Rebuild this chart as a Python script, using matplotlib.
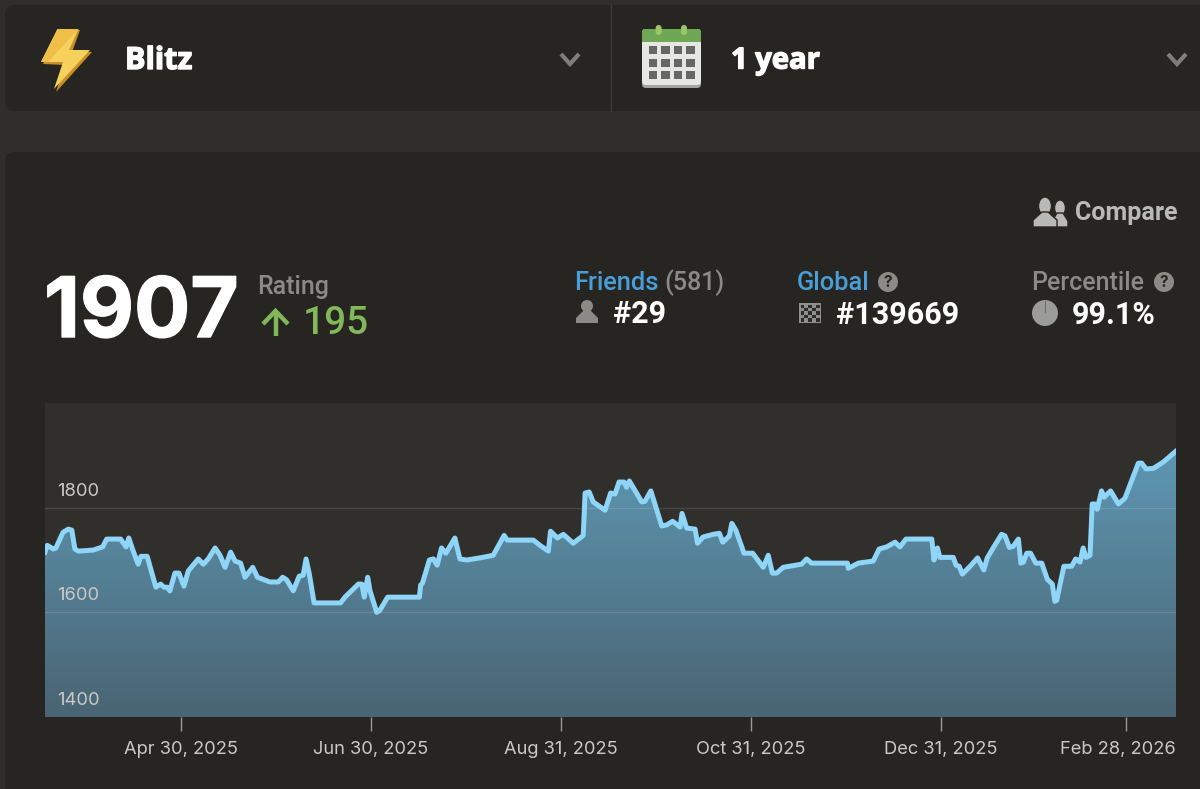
import numpy as np
import matplotlib
matplotlib.use('Agg')
import matplotlib.pyplot as plt
import matplotlib.patheffects as pe
from matplotlib.patches import FancyBboxPatch, Polygon, Circle, Rectangle, Ellipse
from matplotlib.colors import LinearSegmentedColormap
from matplotlib.transforms import ScaledTranslation

# dias desde 2025-03-17 y rating
days = [0, 0.7, 2.7, 3.5, 5.8, 7.5, 8.6, 9.6, 10.7, 15.5, 18.5, 19.8, 24.3, 26, 26.9, 28.2, 29.9, 30.8, 32.8,
        35.6, 37.1, 38.2, 39.2, 40.1, 41.7, 43, 44.6, 46, 49.2, 50.8, 52.4, 54.6, 56.2, 57.8, 59.6, 61, 62.8,
        64.2, 66.7, 68.2, 72.2, 74.9, 76.3, 77.6, 79.7, 81.6, 82.9, 83.8, 84.8, 86.4, 91.5, 94.9, 96.3, 100.6,
        101.7, 102.5, 103.6, 104.3, 106.5, 107.5, 110, 120.2, 120.6, 121.2, 123.4, 124.7, 125.9, 127.3, 128.7,
        131.6, 133.2, 135.4, 139.6, 143.9, 147.4, 148.4, 156.8, 158.9, 161.6, 162.3, 164.5, 166.4, 169.6, 172.8,
        173.4, 174.7, 176, 179.8, 181.6, 183, 184.3, 185.9, 186.7, 187.6, 191.6, 192.6, 194.5, 198, 199.6, 201.5,
        203.9, 204.5, 206, 208.7, 209.5, 211.3, 214.5, 216.5, 217.6, 219.7, 220.5, 221.8, 224.4, 227.2, 230.6,
        232.2, 233.5, 234.9, 237, 242.9, 244.5, 246.1, 257.6, 257.9, 261.1, 265.9, 267.8, 270.2, 272.9, 274.5,
        276.4, 284.7, 285.4, 286.5, 287.3, 291.6, 292.5, 293.5, 294.5, 297, 299.4, 301.4, 302.5, 304.7, 307.1,
        308.2, 309.6, 310.8, 312.5, 313.3, 314.1, 315.2, 316.4, 318.1, 320, 321.8, 323.4, 324.2, 324.8, 327.1,
        329.6, 330.9, 332.3, 333.3, 334.2, 335.5, 336.2, 337.1, 337.8, 339.2, 340, 342.1, 344.6, 346.7, 351,
        352.1, 353.5, 355.8, 359, 363.1]
rating = [1715, 1728, 1721, 1723, 1753, 1759, 1757, 1721, 1717, 1719, 1725, 1740, 1740, 1725, 1742, 1719, 1692, 1707, 1707,
          1648, 1654, 1648, 1648, 1641, 1675, 1675, 1650, 1679, 1702, 1692, 1702, 1723, 1709, 1686, 1715, 1698, 1694,
          1667, 1686, 1667, 1658, 1658, 1667, 1662, 1641, 1669, 1671, 1702, 1675, 1618, 1618, 1618, 1629, 1654,
          1654, 1629, 1667, 1642, 1600, 1604, 1629, 1629, 1652, 1656, 1700, 1702, 1690, 1723, 1713,
          1742, 1702, 1700, 1704, 1709, 1747, 1738, 1738, 1728, 1717, 1755, 1742, 1749, 1732, 1747,
          1828, 1830, 1811, 1795, 1828, 1826, 1849, 1849, 1839, 1851, 1811, 1812, 1832, 1765, 1767, 1774,
          1763, 1789, 1761, 1759, 1732, 1744, 1749, 1751, 1734, 1746, 1770, 1757, 1713, 1713, 1686,
          1709, 1675, 1675, 1686, 1692, 1702, 1694, 1694, 1684, 1694, 1698, 1721, 1725, 1734, 1725,
          1740, 1740, 1700, 1723, 1705, 1705, 1690, 1688, 1673, 1688, 1704, 1681, 1704, 1726, 1749,
          1746, 1724, 1726, 1740, 1694, 1696, 1713, 1713, 1694, 1694, 1663, 1654, 1621, 1623, 1688,
          1688, 1702, 1696, 1723, 1705, 1709, 1807, 1807, 1797, 1832, 1820, 1832, 1807, 1818, 1885,
          1885, 1874, 1875, 1887, 1908]

y_ticks = [1400, 1600, 1800]
x_tick_days = [43.7, 104.7, 165.7, 226.7, 287.7, 347]
x_tick_labels = ['Apr 30, 2025', 'Jun 30, 2025', 'Aug 31, 2025', 'Oct 31, 2025', 'Dec 31, 2025', 'Feb 28, 2026']

plt.rcParams['font.family'] = 'Inter'
BG = '#2f2e2b'
PANEL = '#262522'
GREY = '#8b8a88'
BLUE = '#4a9ed8'
GREEN = '#83b85a'
HEAVY = [pe.withStroke(linewidth=1.0, foreground='white')]

fig = plt.figure(figsize=(12, 7.89), dpi=100, facecolor=BG)

# capa de fondo en pixeles: paneles, iconos y textos
bg = fig.add_axes([0, 0, 1, 1], zorder=0)
bg.set_xlim(0, 1200)
bg.set_ylim(789, 0)
bg.axis('off')

bg.add_patch(FancyBboxPatch((5, 5), 1230, 106, boxstyle='round,pad=0,rounding_size=9', fc=PANEL, ec='none'))
bg.add_patch(FancyBboxPatch((5, 152), 1230, 700, boxstyle='round,pad=0,rounding_size=9', fc=PANEL, ec='none'))
bg.plot([611, 611], [5, 111], color='#3d3c39', lw=1)

# rayo
bg.add_patch(Polygon([(59, 30), (80, 30), (72, 52), (92, 52), (56, 92), (65, 65), (43, 64)], fc='#c98f2a', ec='none'))
bg.add_patch(Polygon([(57.5, 29), (78.5, 29), (69, 50), (90, 50), (54, 89), (63, 62), (41, 62)], fc='#f6d25c', ec='none'))
bg.add_patch(Polygon([(57.5, 29), (78.5, 29), (48, 62), (41, 62)], fc='#f0bf4a', ec='none'))

# calendario
bg.add_patch(FancyBboxPatch((642, 32), 59, 56, boxstyle='round,pad=0,rounding_size=4', fc='#a3a3a0', ec='none'))
bg.add_patch(FancyBboxPatch((642, 29), 59, 56, boxstyle='round,pad=0,rounding_size=4', fc='#e6e6e3', ec='none'))
bg.add_patch(FancyBboxPatch((642, 29), 59, 13, boxstyle='round,pad=0,rounding_size=3', fc='#6fa854', ec='none'))
bg.add_patch(Rectangle((642, 36), 59, 6, fc='#6fa854', ec='none'))
for cx in [658.6, 684]:
    bg.add_patch(FancyBboxPatch((cx - 3, 25), 6, 10, boxstyle='round,pad=0,rounding_size=3', fc='#9cc56a', ec='none'))
for cx in [653, 665.5, 678, 690.5]:
    for cy in [50, 63, 75]:
        bg.add_patch(Rectangle((cx - 4.2, cy - 4.2), 8.4, 8.4, fc='#666664', ec='none'))

# flechas de los desplegables
for cx in [570, 1177]:
    bg.plot([cx - 9, cx, cx + 9], [54, 64, 54], color='#7f7e7c', lw=3, solid_capstyle='butt', solid_joinstyle='miter')

bg.text(125, 61, 'Blitz', color='white', fontsize=22, fontweight='bold', family='Open Sans', va='center', path_effects=HEAVY)
bg.text(731, 61, '1 year', color='white', fontsize=21, fontweight='bold', family='Open Sans', va='center', path_effects=HEAVY)

# compare
for cx, top, rx, ry, w in [(1060, 200, 5.5, 8, 8), (1045, 197, 6.5, 9, 12)]:
    bg.add_patch(Ellipse((cx, top + ry), 2 * rx, 2 * ry, fc='#b9b9b7', ec=PANEL, lw=1))
    bg.add_patch(Polygon([(cx - 3, top + 2 * ry - 3), (cx + 3, top + 2 * ry - 3), (cx + w, top + 2 * ry + 5),
                          (cx + w, 227), (cx - w, 227), (cx - w, top + 2 * ry + 5)], fc='#b9b9b7', ec=PANEL, lw=1))
bg.text(1075, 213, 'Compare', color='#b9b9b7', fontsize=18, fontweight='semibold', family='Roboto', va='center')

# rating
bg.text(44, 315, '1907', color='white', fontsize=60, fontweight='bold', va='center', path_effects=HEAVY)
bg.text(257, 287, 'Rating', color=GREY, fontsize=18, fontweight='medium', family='Roboto', va='center')
bg.plot([275.5, 275.5], [312, 336], color=GREEN, lw=3.2, solid_capstyle='butt')
bg.plot([263, 275.5, 288], [324, 311, 324], color=GREEN, lw=3.2, solid_capstyle='butt', solid_joinstyle='miter')
bg.text(303, 323, '195', color=GREEN, fontsize=28, fontweight='medium', family='Roboto', va='center')

# friends / global / percentile
bg.text(574, 283, 'Friends', color=BLUE, fontsize=18.3, fontweight='medium', family='Roboto', va='center')
bg.text(664, 283, '(581)', color=GREY, fontsize=18, fontweight='medium', family='Roboto', va='center')
bg.add_patch(Circle((587, 306), 6, fc=GREY, ec='none'))
bg.add_patch(Polygon([(584, 310), (590, 310), (598, 318), (598, 323), (576, 323), (576, 318)], fc=GREY, ec='none'))
bg.text(613, 314, '#29', color='white', fontsize=22, fontweight='semibold', family='Roboto', va='center')

bg.text(797, 283, 'Global', color=BLUE, fontsize=18.3, fontweight='medium', family='Roboto', va='center')
bg.add_patch(Circle((888, 282), 10, fc=GREY, ec='none'))
bg.text(888, 282, '?', color=PANEL, fontsize=11, fontweight='bold', ha='center', va='center')
bg.add_patch(Rectangle((799, 303), 22, 20, fc='#8e8e8c', ec='none'))
for i in range(5):
    for j in range(5):
        if (i + j) % 2 == 0:
            bg.add_patch(Rectangle((800.5 + i * 3.8, 304.5 + j * 3.4), 3.8, 3.4, fc='#2e2d2b', ec='none'))
bg.text(836, 315, '#139669', color='white', fontsize=22, fontweight='semibold', family='Roboto', va='center')

bg.text(1031, 283, 'Percentile', color=GREY, fontsize=18, fontweight='medium', family='Roboto', va='center')
bg.add_patch(Circle((1164, 282), 10, fc=GREY, ec='none'))
bg.text(1164, 282, '?', color=PANEL, fontsize=11, fontweight='bold', ha='center', va='center')
bg.add_patch(Circle((1045, 313), 13, fc='#9b9b99', ec='none'))
bg.plot([1045, 1045], [301, 312], color='#6b6b69', lw=0.7)
bg.text(1072, 315, '99.1%', color='white', fontsize=22, fontweight='semibold', family='Roboto', va='center')

# grafico
ax = fig.add_axes([45 / 1200, 1 - 717 / 789, 1131 / 1200, 314 / 789], zorder=1, facecolor='#312f2c')
ax.set_xlim(0, 363.1)
ax.set_ylim(1400, 2000)

cmap = LinearSegmentedColormap.from_list('fill', ['#496472', '#5e97b3'])
grad = ax.imshow(np.linspace(0, 1, 256).reshape(-1, 1), cmap=cmap, origin='lower', aspect='auto',
                 extent=[0, 363.1, 1400, 1910], zorder=1)
area = Polygon(list(zip(days, rating)) + [(363.1, 1400), (0, 1400)], transform=ax.transData, fc='none', ec='none')
ax.add_patch(area)
grad.set_clip_path(area)
ax.set_xlim(0, 363.1)
ax.set_ylim(1400, 2000)

for t in y_ticks[1:]:
    ax.axhline(t, color='white', alpha=0.13, lw=1, zorder=2)
for t in y_ticks:
    ax.annotate(str(t), (0, t), xytext=(12, 8), xycoords=('axes fraction', 'data'), textcoords='offset pixels',
                color='#c9c9c7', fontsize=13.2, va='bottom', zorder=5)

ax.plot(days, rating, color='#8fd5f7', lw=3.6, solid_joinstyle='round', zorder=3)

for s in ax.spines.values():
    s.set_visible(False)
ax.set_yticks([])
ax.set_xticks(x_tick_days)
ax.set_xticklabels(x_tick_labels, color='#c9c9c7', fontsize=13.2)
ax.tick_params(axis='x', length=10, width=1, color='#9a9a98', pad=7)
# la ultima etiqueta va corrida para no salirse
last = ax.get_xticklabels()[-1]
last.set_transform(last.get_transform() + ScaledTranslation(-8 / 100, 0, fig.dpi_scale_trans))

plt.savefig('out.png', dpi=100, facecolor=fig.get_facecolor())
